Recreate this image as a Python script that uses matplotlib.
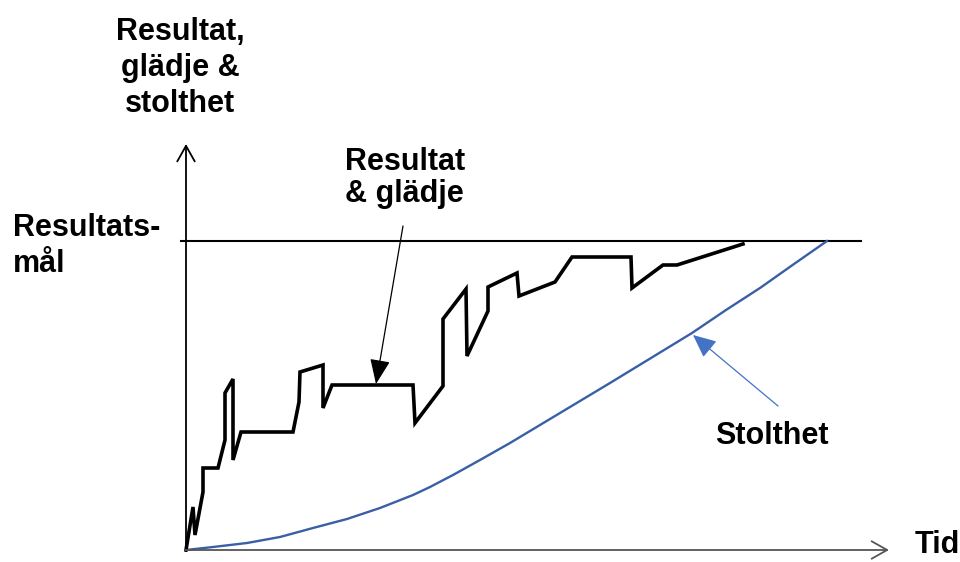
import matplotlib
matplotlib.use("Agg")
import matplotlib.pyplot as plt

plt.rcParams['font.family'] = ['Liberation Sans', 'DejaVu Sans']

# Time (x) and value (y)
result_t = [0, 7, 9, 17, 17, 32, 39, 39, 47, 47, 55, 107, 113, 114, 137, 137, 146,
            227, 229, 257, 257, 280, 281, 302, 302, 331, 333, 369, 386, 445, 446,
            477, 491, 557]
result_v = [0, 43, 15, 58, 82, 82, 110, 157, 171, 90, 118, 118, 148, 178, 185, 142,
            165, 165, 127, 164, 231, 261, 194, 239, 263, 277, 254, 268, 293, 293,
            262, 285, 285, 306]

pride_t = [0, 27, 61, 94, 127, 161, 194, 227, 244, 267, 294, 324, 354, 389, 424,
           465, 506, 540, 574, 608, 641]
pride_v = [0, 3, 7, 13, 22, 31, 42, 55, 63, 75, 90, 107, 125, 146, 167,
           192, 217, 240, 262, 286, 309]

goal_value = 309
goal_t = [-6, 676]

fig = plt.figure(figsize=(9.6, 5.62), dpi=100)
ax = fig.add_axes([0, 0, 1, 1])
ax.set_xlim(-186, 774)
ax.set_ylim(-12, 550)
ax.axis('off')

FS = 22

# axes with open arrowheads
ax.annotate('', xy=(0, 406), xytext=(0, -1),
            arrowprops=dict(arrowstyle='->,head_length=0.8,head_width=0.45',
                            lw=1.3, color='black', mutation_scale=14,
                            shrinkA=0, shrinkB=0))
ax.annotate('', xy=(703, 0), xytext=(-1, 0),
            arrowprops=dict(arrowstyle='->,head_length=0.8,head_width=0.45',
                            lw=1.3, color='#555555', mutation_scale=14,
                            shrinkA=0, shrinkB=0))

# goal line
ax.plot(goal_t, [goal_value, goal_value], color='black', lw=1.5, solid_capstyle='butt')

# curves
ax.plot(pride_t, pride_v, color='#3A5FA5', lw=1.7, solid_joinstyle='round')
ax.plot(result_t, result_v, color='black', lw=2.6, solid_joinstyle='miter')

# annotation arrows
ax.annotate('', xy=(190, 166), xytext=(217, 324),
            arrowprops=dict(arrowstyle='-|>,head_length=1.1,head_width=0.45',
                            lw=0.9, color='black', mutation_scale=14,
                            shrinkA=0, shrinkB=0))
ax.annotate('', xy=(507, 215), xytext=(592, 144),
            arrowprops=dict(arrowstyle='-|>,head_length=1.1,head_width=0.5',
                            lw=0.9, color='#4472C4', mutation_scale=13,
                            shrinkA=0, shrinkB=0))

# texts
ax.text(-6, 482, 'Resultat,\nglädje &\nstolthet', ha='center', va='center',
        fontsize=FS, fontweight='bold', linespacing=1.27)
ax.text(-173, 304, 'Resultats-\nmål', ha='left', va='center',
        fontsize=FS, fontweight='bold', linespacing=1.25)
ax.text(159, 372, 'Resultat\n& glädje', ha='left', va='center',
        fontsize=FS, fontweight='bold', linespacing=1.08)
ax.text(529, 106, 'Stolthet', ha='left', va='baseline',
        fontsize=FS, fontweight='bold')
ax.text(729, -3, 'Tid', ha='left', va='baseline',
        fontsize=FS, fontweight='bold')

fig.savefig('out.png', dpi=100)
